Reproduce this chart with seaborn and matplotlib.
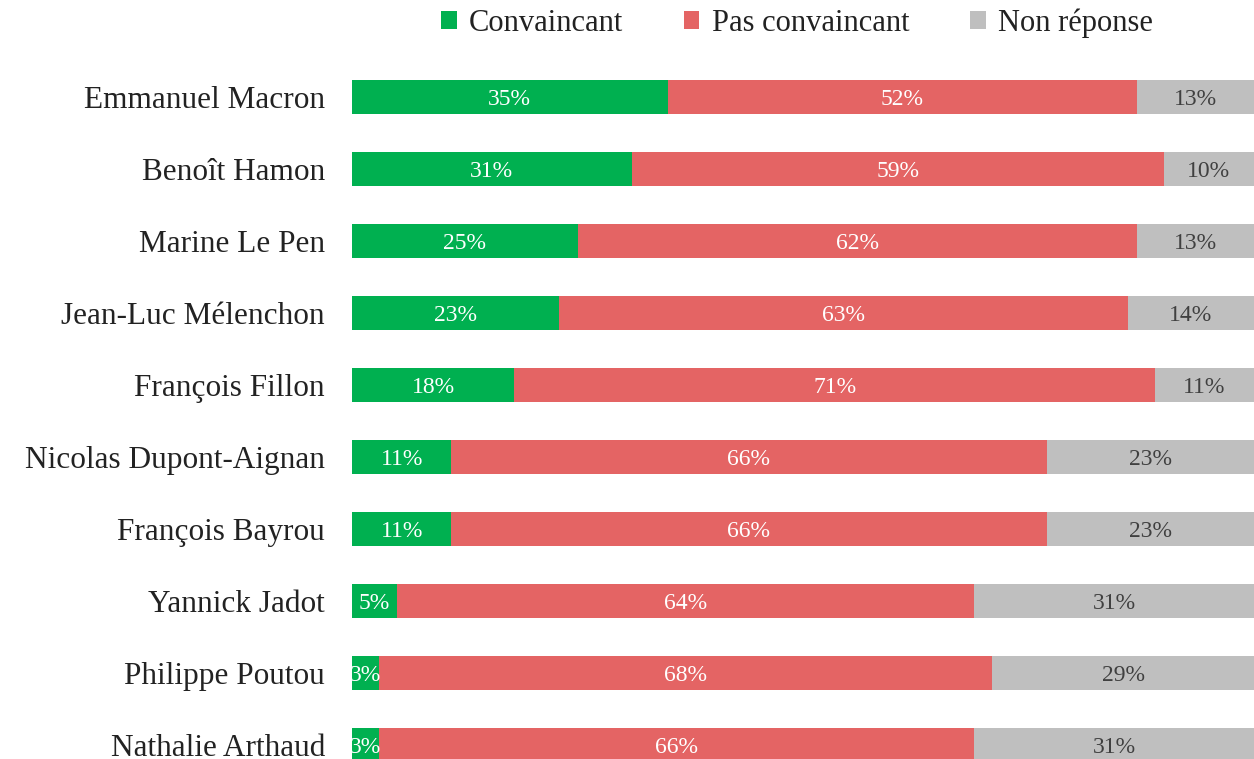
#!/usr/bin/env python3
"""Stacked horizontal bars: candidate convincing / not convincing."""
import matplotlib
matplotlib.use("Agg")
import matplotlib.pyplot as plt
import pandas as pd
import seaborn as sns
from matplotlib.patches import Patch

candidates = [
    "Emmanuel Macron", "Benoît Hamon", "Marine Le Pen", "Jean-Luc Mélenchon",
    "François Fillon", "Nicolas Dupont-Aignan", "François Bayrou",
    "Yannick Jadot", "Philippe Poutou", "Nathalie Arthaud",
]
convaincant = [35, 31, 25, 23, 18, 11, 11, 5, 3, 3]
pas_convaincant = [52, 59, 62, 63, 71, 66, 66, 64, 68, 66]
non_reponse = [13, 10, 13, 14, 11, 23, 23, 31, 29, 31]

series_names = ["Convaincant", "Pas convaincant", "Non réponse"]
colors = ["#00B050", "#E46464", "#BFBFBF"]
text_colors = ["white", "white", "#404040"]

df = pd.DataFrame({
    "candidate": candidates,
    "c1": convaincant,
    "c2": pas_convaincant,
    "c3": non_reponse,
})
df["end1"] = df["c1"]
df["end2"] = df["c1"] + df["c2"]
df["end3"] = df["end2"] + df["c3"]

sns.set_theme(style="white")
plt.rcParams["font.family"] = ["Liberation Serif", "DejaVu Serif"]

fig = plt.figure(figsize=(12.54, 7.59), dpi=100)
ax = fig.add_axes([352 / 1254, 0.0, 1 - 352 / 1254, (759 - 60) / 759])

bar_w = 34 / 72
for end, color in zip(["end3", "end2", "end1"], colors[::-1]):
    sns.barplot(data=df, y="candidate", x=end, color=color, orient="h",
                width=bar_w, ax=ax, saturation=1, edgecolor="none")

for i, row in df.iterrows():
    starts = [0, row["end1"], row["end2"]]
    vals = [row["c1"], row["c2"], row["c3"]]
    for s, v, tc in zip(starts, vals, text_colors):
        ax.text(s + v / 2, i + 0.04, f"{v}%", ha="center", va="center",
                color=tc, fontsize=17)

ax.set_xlim(0, 100)
ax.set_ylim((759 - 97) / 72, (60 - 97) / 72)
ax.set_xlabel("")
ax.set_ylabel("")
ax.set_xticks([])
ax.tick_params(axis="y", length=0, pad=19.5, labelsize=22.5, labelcolor="#222222")
for sp in ax.spines.values():
    sp.set_visible(False)

handles = [Patch(facecolor=c, edgecolor="none", label=n) for c, n in zip(colors, series_names)]
fig.legend(handles=handles, loc="center", bbox_to_anchor=(797 / 1254, 1 - 23 / 759),
           ncol=3, frameon=False, fontsize=22, handlelength=0.5, handleheight=0.5,
           handletextpad=0.4, columnspacing=2.0, labelcolor="#222222")

fig.savefig("out.png", dpi=100)
